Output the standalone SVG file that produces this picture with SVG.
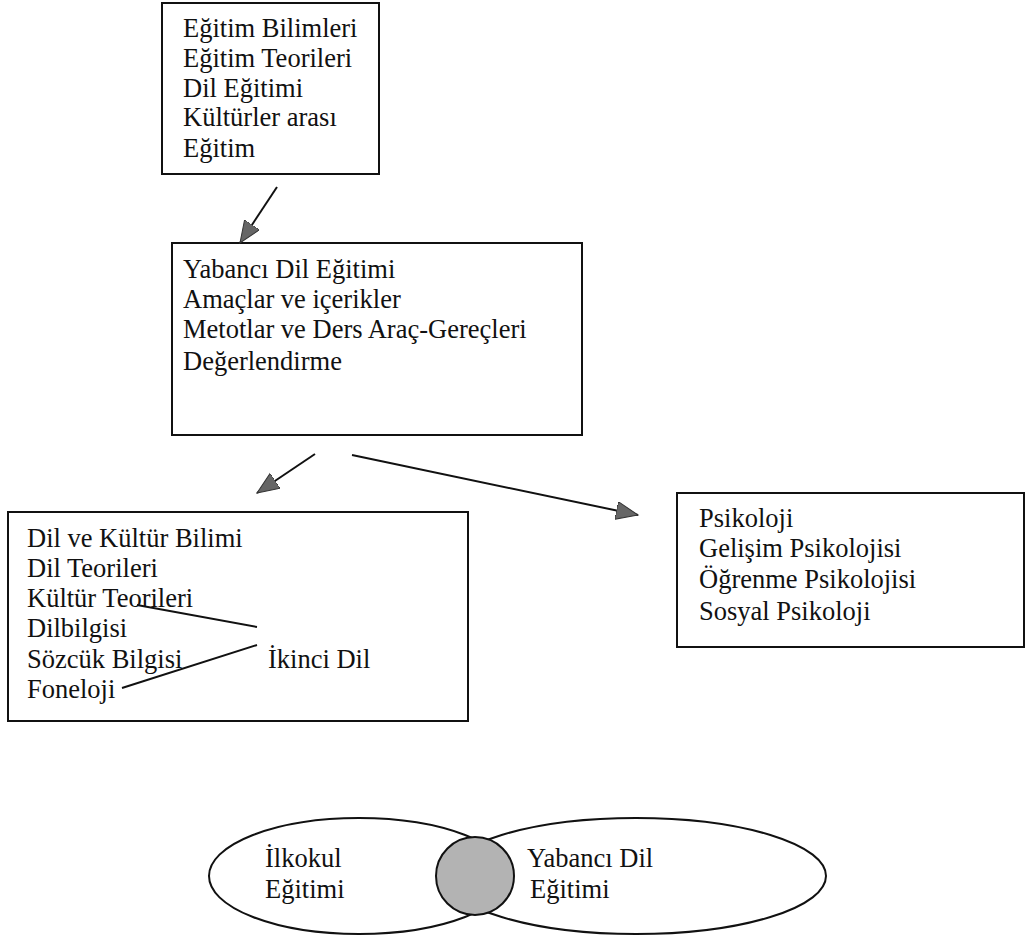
<svg xmlns="http://www.w3.org/2000/svg" width="1027" height="940" viewBox="0 0 1027 940">
<style>
.box{fill:none;stroke:#111;stroke-width:2}
.t{font-family:"Liberation Serif","Times New Roman",serif;font-size:26.5px;fill:#111}
.ln{stroke:#111;stroke-width:2;fill:none}
.ell{fill:none;stroke:#111;stroke-width:2}
</style>
<defs>
<marker id="ah" markerUnits="userSpaceOnUse" markerWidth="24" markerHeight="20" refX="22" refY="9" orient="auto">
<path d="M0,0 L22,9 L0,18 z" fill="#666" stroke="#333" stroke-width="1"/>
</marker>
</defs>
<rect width="1027" height="940" fill="#fff"/>
<g id="node-egitim">
<rect class="box" x="162" y="3" width="217" height="171"/>
<text class="t" x="183" y="37">Eğitim Bilimleri</text>
<text class="t" x="183" y="67">Eğitim Teorileri</text>
<text class="t" x="183" y="97">Dil Eğitimi</text>
<text class="t" x="183" y="126">Kültürler arası</text>
<text class="t" x="183" y="157">Eğitim</text>
</g>
<g id="node-yabanci">
<rect class="box" x="172" y="243" width="410" height="192"/>
<text class="t" x="183" y="278">Yabancı Dil Eğitimi</text>
<text class="t" x="183" y="308">Amaçlar ve içerikler</text>
<text class="t" x="183" y="338">Metotlar ve Ders Araç-Gereçleri</text>
<text class="t" x="183" y="370">Değerlendirme</text>
</g>
<g id="node-dil">
<rect class="box" x="8" y="512" width="460" height="209"/>
<text class="t" x="27" y="547">Dil ve Kültür Bilimi</text>
<text class="t" x="27" y="577">Dil Teorileri</text>
<text class="t" x="27" y="607">Kültür Teorileri</text>
<text class="t" x="27" y="637">Dilbilgisi</text>
<text class="t" x="27" y="668">Sözcük Bilgisi</text>
<text class="t" x="27" y="698">Foneloji</text>
<text class="t" x="268" y="668">İkinci Dil</text>
<path class="ln" d="M137,605 L257,627 M257,645 L122,688"/>
</g>
<g id="node-psikoloji">
<rect class="box" x="677" y="493" width="347" height="154"/>
<text class="t" x="699" y="527">Psikoloji</text>
<text class="t" x="699" y="557">Gelişim Psikolojisi</text>
<text class="t" x="699" y="588">Öğrenme Psikolojisi</text>
<text class="t" x="699" y="620">Sosyal Psikoloji</text>
</g>
<g id="node-venn">
<ellipse class="ell" cx="359" cy="876" rx="150" ry="58"/>
<ellipse class="ell" cx="636" cy="876" rx="190" ry="58"/>
<circle cx="475" cy="876" r="39" fill="#b3b3b3" stroke="#111" stroke-width="2"/>
<text class="t" x="265" y="867">İlkokul</text>
<text class="t" x="265" y="898">Eğitimi</text>
<text class="t" x="527" y="867">Yabancı Dil</text>
<text class="t" x="530" y="898">Eğitimi</text>
</g>
<g id="connectors">
<line class="ln" x1="277" y1="187" x2="240" y2="243" marker-end="url(#ah)"/>
<line class="ln" x1="315" y1="454" x2="257" y2="493" marker-end="url(#ah)"/>
<line class="ln" x1="352" y1="455" x2="638" y2="515" marker-end="url(#ah)"/>
</g>
</svg>
